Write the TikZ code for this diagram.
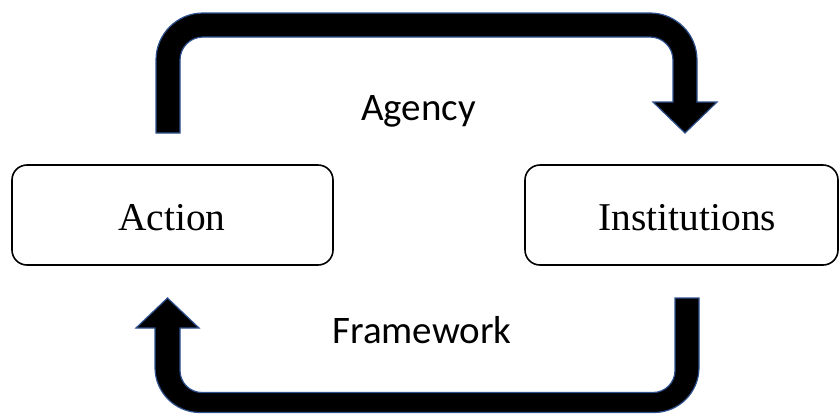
\documentclass[tikz,border=0pt]{standalone}
\usepackage{fontspec}
\setmainfont{Liberation Serif}
\newfontfamily\calfont{Carlito}
\definecolor{edgeblue}{HTML}{2F528F}
\begin{document}
\begin{tikzpicture}[x=0.5pt,y=-0.5pt,
  box/.style={draw=black,line width=0.8pt,rounded corners=7.5pt,inner sep=0pt},
  blockarrow/.style={fill=black,draw=edgeblue,line width=0.6pt,line join=miter},
  seriflabel/.style={font=\fontsize{19.7pt}{23pt}\selectfont,anchor=base,inner sep=0pt},
  sanslabel/.style={font=\calfont\fontsize{19.5pt}{23pt}\selectfont,anchor=base,inner sep=0pt}]
\useasboundingbox (0,0) rectangle (840,414);
% boxes
\node[box,minimum width=160.5pt,minimum height=50pt] (action) at (172.5,215) {};
\node[box,minimum width=156.5pt,minimum height=50pt] (institutions) at (681.5,215) {};
\node[seriflabel] (actiontext) at (172,230) {Action};
\node[seriflabel] (insttext) at (687.5,230) {Institutions};
% top block arrow (Agency)
\draw[blockarrow] (156,133) -- (156,60) arc[start angle=180,end angle=270,radius=47]
  -- (650,13) arc[start angle=270,end angle=360,radius=47]
  -- (697,102) -- (717,102) -- (685,133) -- (653,102) -- (673,102) -- (673,60)
  arc[start angle=0,end angle=-90,radius=23]
  -- (203,37) arc[start angle=270,end angle=180,radius=23]
  -- (180,133) -- cycle;
% bottom block arrow (Framework)
\draw[blockarrow] (699,298) -- (699,367.5) arc[start angle=0,end angle=90,radius=45]
  -- (200,412.5) arc[start angle=90,end angle=180,radius=45]
  -- (155,328) -- (136,328) -- (167.5,298) -- (199,328) -- (180,328) -- (180,370.5)
  arc[start angle=180,end angle=90,radius=22]
  -- (653,392.5) arc[start angle=90,end angle=0,radius=22]
  -- (675,298) -- cycle;
\node[sanslabel] (agency) at (418.5,120) {Agency};
\node[sanslabel] (framework) at (422,343) {Framework};
\end{tikzpicture}
\end{document}
